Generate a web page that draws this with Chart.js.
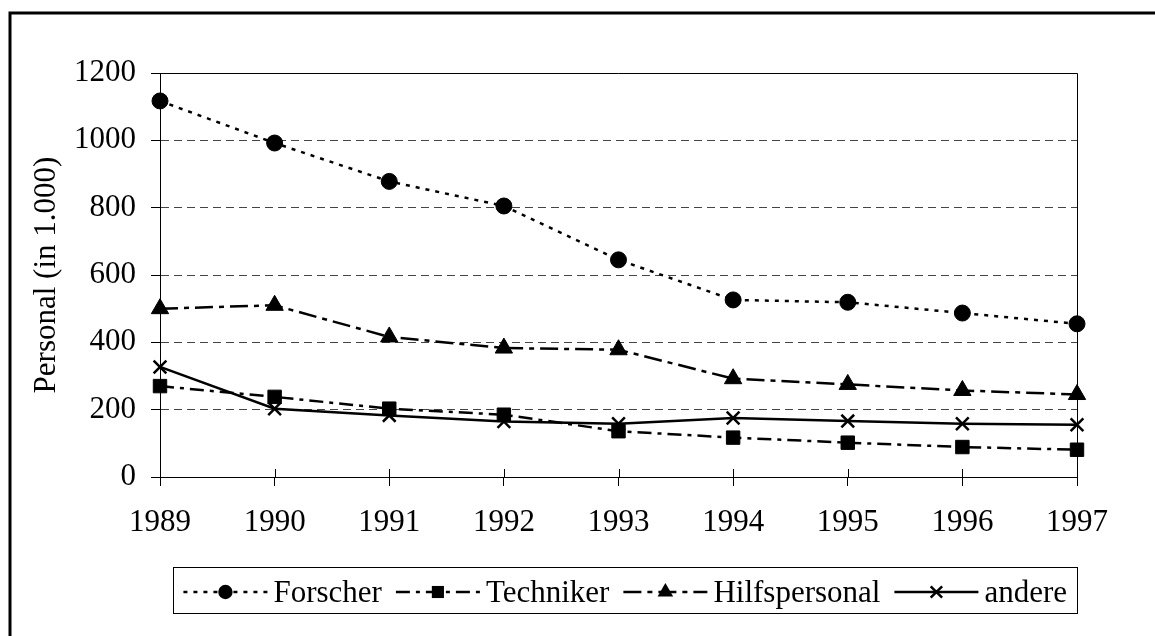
<!DOCTYPE html>
<html>
<head>
<meta charset="utf-8">
<script src="https://cdn.jsdelivr.net/npm/chart.js@4/dist/chart.umd.min.js"></script>
<style>
  html, body { margin: 0; padding: 0; background: #fff; }
  #wrap { width: 1155px; height: 636px; }
</style>
</head>
<body>
<div id="wrap"><canvas id="chart" width="1155" height="636"></canvas></div>
<script>
// data (Personal in 1.000)
const years = ['1989', '1990', '1991', '1992', '1993', '1994', '1995', '1996', '1997'];
const seriesNames = ['Forscher', 'Techniker', 'Hilfspersonal', 'andere'];
const forscher = [1117, 992, 878, 805, 645, 526, 519, 487, 455];
const techniker = [270, 238, 203, 185, 136, 117, 102, 89, 81];
const hilfspersonal = [500, 510, 416, 383, 378, 292, 275, 257, 245];
const andere = [327, 203, 183, 165, 158, 175, 166, 158, 155];
const yTicks = [0, 200, 400, 600, 800, 1000, 1200];

const FONT = 'Liberation Serif, Times New Roman, serif';
const FS = 31;

const styles = [
  { dash: [4, 6], point: 'circle', r: 8, pbw: 1 },
  { dash: [14, 6, 4, 6], point: 'rect', r: 9.5, pbw: 1 },
  { dash: [18, 6, 5, 6], point: 'triangle', r: 10, pbw: 1 },
  { dash: [], point: 'crossRot', r: 9, pbw: 2.5 }
];
const values = [forscher, techniker, hilfspersonal, andere];

const datasets = values.map(function(v, i) {
  return {
    label: seriesNames[i],
    data: v,
    borderColor: '#000',
    backgroundColor: '#000',
    borderWidth: 2.5,
    borderDash: styles[i].dash,
    pointStyle: styles[i].point,
    pointRadius: styles[i].r,
    pointBorderWidth: styles[i].pbw,
    pointBackgroundColor: '#000',
    pointBorderColor: '#000',
    tension: 0,
    fill: false
  };
});

// draws one legend marker
function marker(ctx, style, x, y, r) {
  ctx.save();
  ctx.fillStyle = '#000';
  ctx.strokeStyle = '#000';
  ctx.setLineDash([]);
  ctx.beginPath();
  if (style === 'circle') {
    ctx.arc(x, y, r, 0, Math.PI * 2);
    ctx.fill();
  } else if (style === 'rect') {
    const s = r * Math.SQRT1_2;
    ctx.fillRect(x - s, y - s, 2 * s, 2 * s);
  } else if (style === 'triangle') {
    ctx.moveTo(x, y - r);
    ctx.lineTo(x + r * 0.866, y + r / 2);
    ctx.lineTo(x - r * 0.866, y + r / 2);
    ctx.closePath();
    ctx.fill();
  } else {
    const s = r * Math.SQRT1_2;
    ctx.lineWidth = 2.5;
    ctx.moveTo(x - s, y - s); ctx.lineTo(x + s, y + s);
    ctx.moveTo(x + s, y - s); ctx.lineTo(x - s, y + s);
    ctx.stroke();
  }
  ctx.restore();
}

const decor = {
  id: 'decor',
  beforeDatasetsDraw: function(chart) {
    const ctx = chart.ctx;
    const a = chart.chartArea;
    ctx.save();
    ctx.strokeStyle = '#000';
    ctx.lineWidth = 1;
    ctx.setLineDash([]);
    ctx.beginPath();
    ctx.moveTo(a.left, a.top + 0.5);
    ctx.lineTo(a.right + 0.5, a.top + 0.5);
    ctx.lineTo(a.right + 0.5, a.bottom);
    ctx.stroke();
    // x tick marks cross the axis
    const xs = chart.scales.x;
    ctx.beginPath();
    xs.ticks.forEach(function(t, i) {
      const px = Math.round(xs.getPixelForTick(i)) + 0.5;
      ctx.moveTo(px, a.bottom - 8);
      ctx.lineTo(px, a.bottom);
    });
    ctx.stroke();
    ctx.restore();
  },
  afterDraw: function(chart) {
    const ctx = chart.ctx;
    const a = chart.chartArea;
    ctx.save();
    // outer frame
    ctx.strokeStyle = '#000';
    ctx.lineWidth = 3;
    ctx.strokeRect(10, 13, 1300, 800);

    // legend
    ctx.font = FS + 'px ' + FONT;
    const sample = 84, gapT = 6, gapI = 14, pad = 10;
    let total = pad * 2;
    seriesNames.forEach(function(n, i) {
      total += sample + gapT + ctx.measureText(n).width + (i < seriesNames.length - 1 ? gapI : 0);
    });
    const boxR = a.right;
    const boxL = boxR - total;
    const boxT = a.bottom + 90;
    const boxB = boxT + 46;
    ctx.lineWidth = 1;
    ctx.strokeRect(Math.round(boxL) + 0.5, boxT + 0.5, Math.round(total), boxB - boxT);
    const cy = boxT + 25;
    let x = boxL + pad;
    seriesNames.forEach(function(n, i) {
      const st = styles[i];
      ctx.save();
      ctx.lineWidth = 2.5;
      ctx.setLineDash(st.dash);
      ctx.beginPath();
      ctx.moveTo(x, cy);
      ctx.lineTo(x + sample, cy);
      ctx.stroke();
      ctx.restore();
      marker(ctx, st.point, x + sample / 2, cy, st.r * 0.9);
      x += sample + gapT;
      ctx.fillStyle = '#000';
      ctx.textBaseline = 'alphabetic';
      ctx.textAlign = 'left';
      ctx.fillText(n, x, cy + 10);
      x += ctx.measureText(n).width + gapI;
    });
    ctx.restore();
  }
};

new Chart(document.getElementById('chart').getContext('2d'), {
  type: 'line',
  data: { labels: years, datasets: datasets },
  options: {
    responsive: false,
    animation: false,
    layout: { padding: { left: 0, top: 73, right: 78, bottom: 0 } },
    plugins: { legend: { display: false }, tooltip: { enabled: false } },
    scales: {
      x: {
        offset: false,
        grid: {
          display: true,
          drawOnChartArea: false,
          drawTicks: true,
          tickLength: 9,
          color: '#000',
          tickColor: '#000'
        },
        border: { display: true, color: '#000', width: 1 },
        ticks: {
          color: '#000',
          font: { family: FONT, size: FS },
          padding: 18,
          maxRotation: 0,
          autoSkip: false
        },
        afterFit: function(s) { s.height = 159; }
      },
      y: {
        min: 0,
        max: 1200,
        afterBuildTicks: function(s) { s.ticks = yTicks.map(function(v) { return { value: v }; }); },
        grid: {
          color: function(c) { return c.tick && (c.tick.value === 0 || c.tick.value === 1200) ? 'rgba(0,0,0,0)' : '#444'; },
          lineWidth: 1,
          tickBorderDash: [],
          tickColor: '#000',
          tickLength: 9
        },
        border: { display: true, color: '#000', width: 1, dash: [8, 5] },
        ticks: {
          color: '#000',
          font: { family: FONT, size: FS },
          padding: 15,
          callback: function(v) { return String(v); }
        },
        title: {
          display: true,
          text: 'Personal (in 1.000)',
          color: '#000',
          font: { family: FONT, size: FS },
          padding: { top: 28, bottom: 0 }
        },
        afterFit: function(s) { s.width = 160; }
      }
    }
  },
  plugins: [decor]
});
</script>
</body>
</html>
